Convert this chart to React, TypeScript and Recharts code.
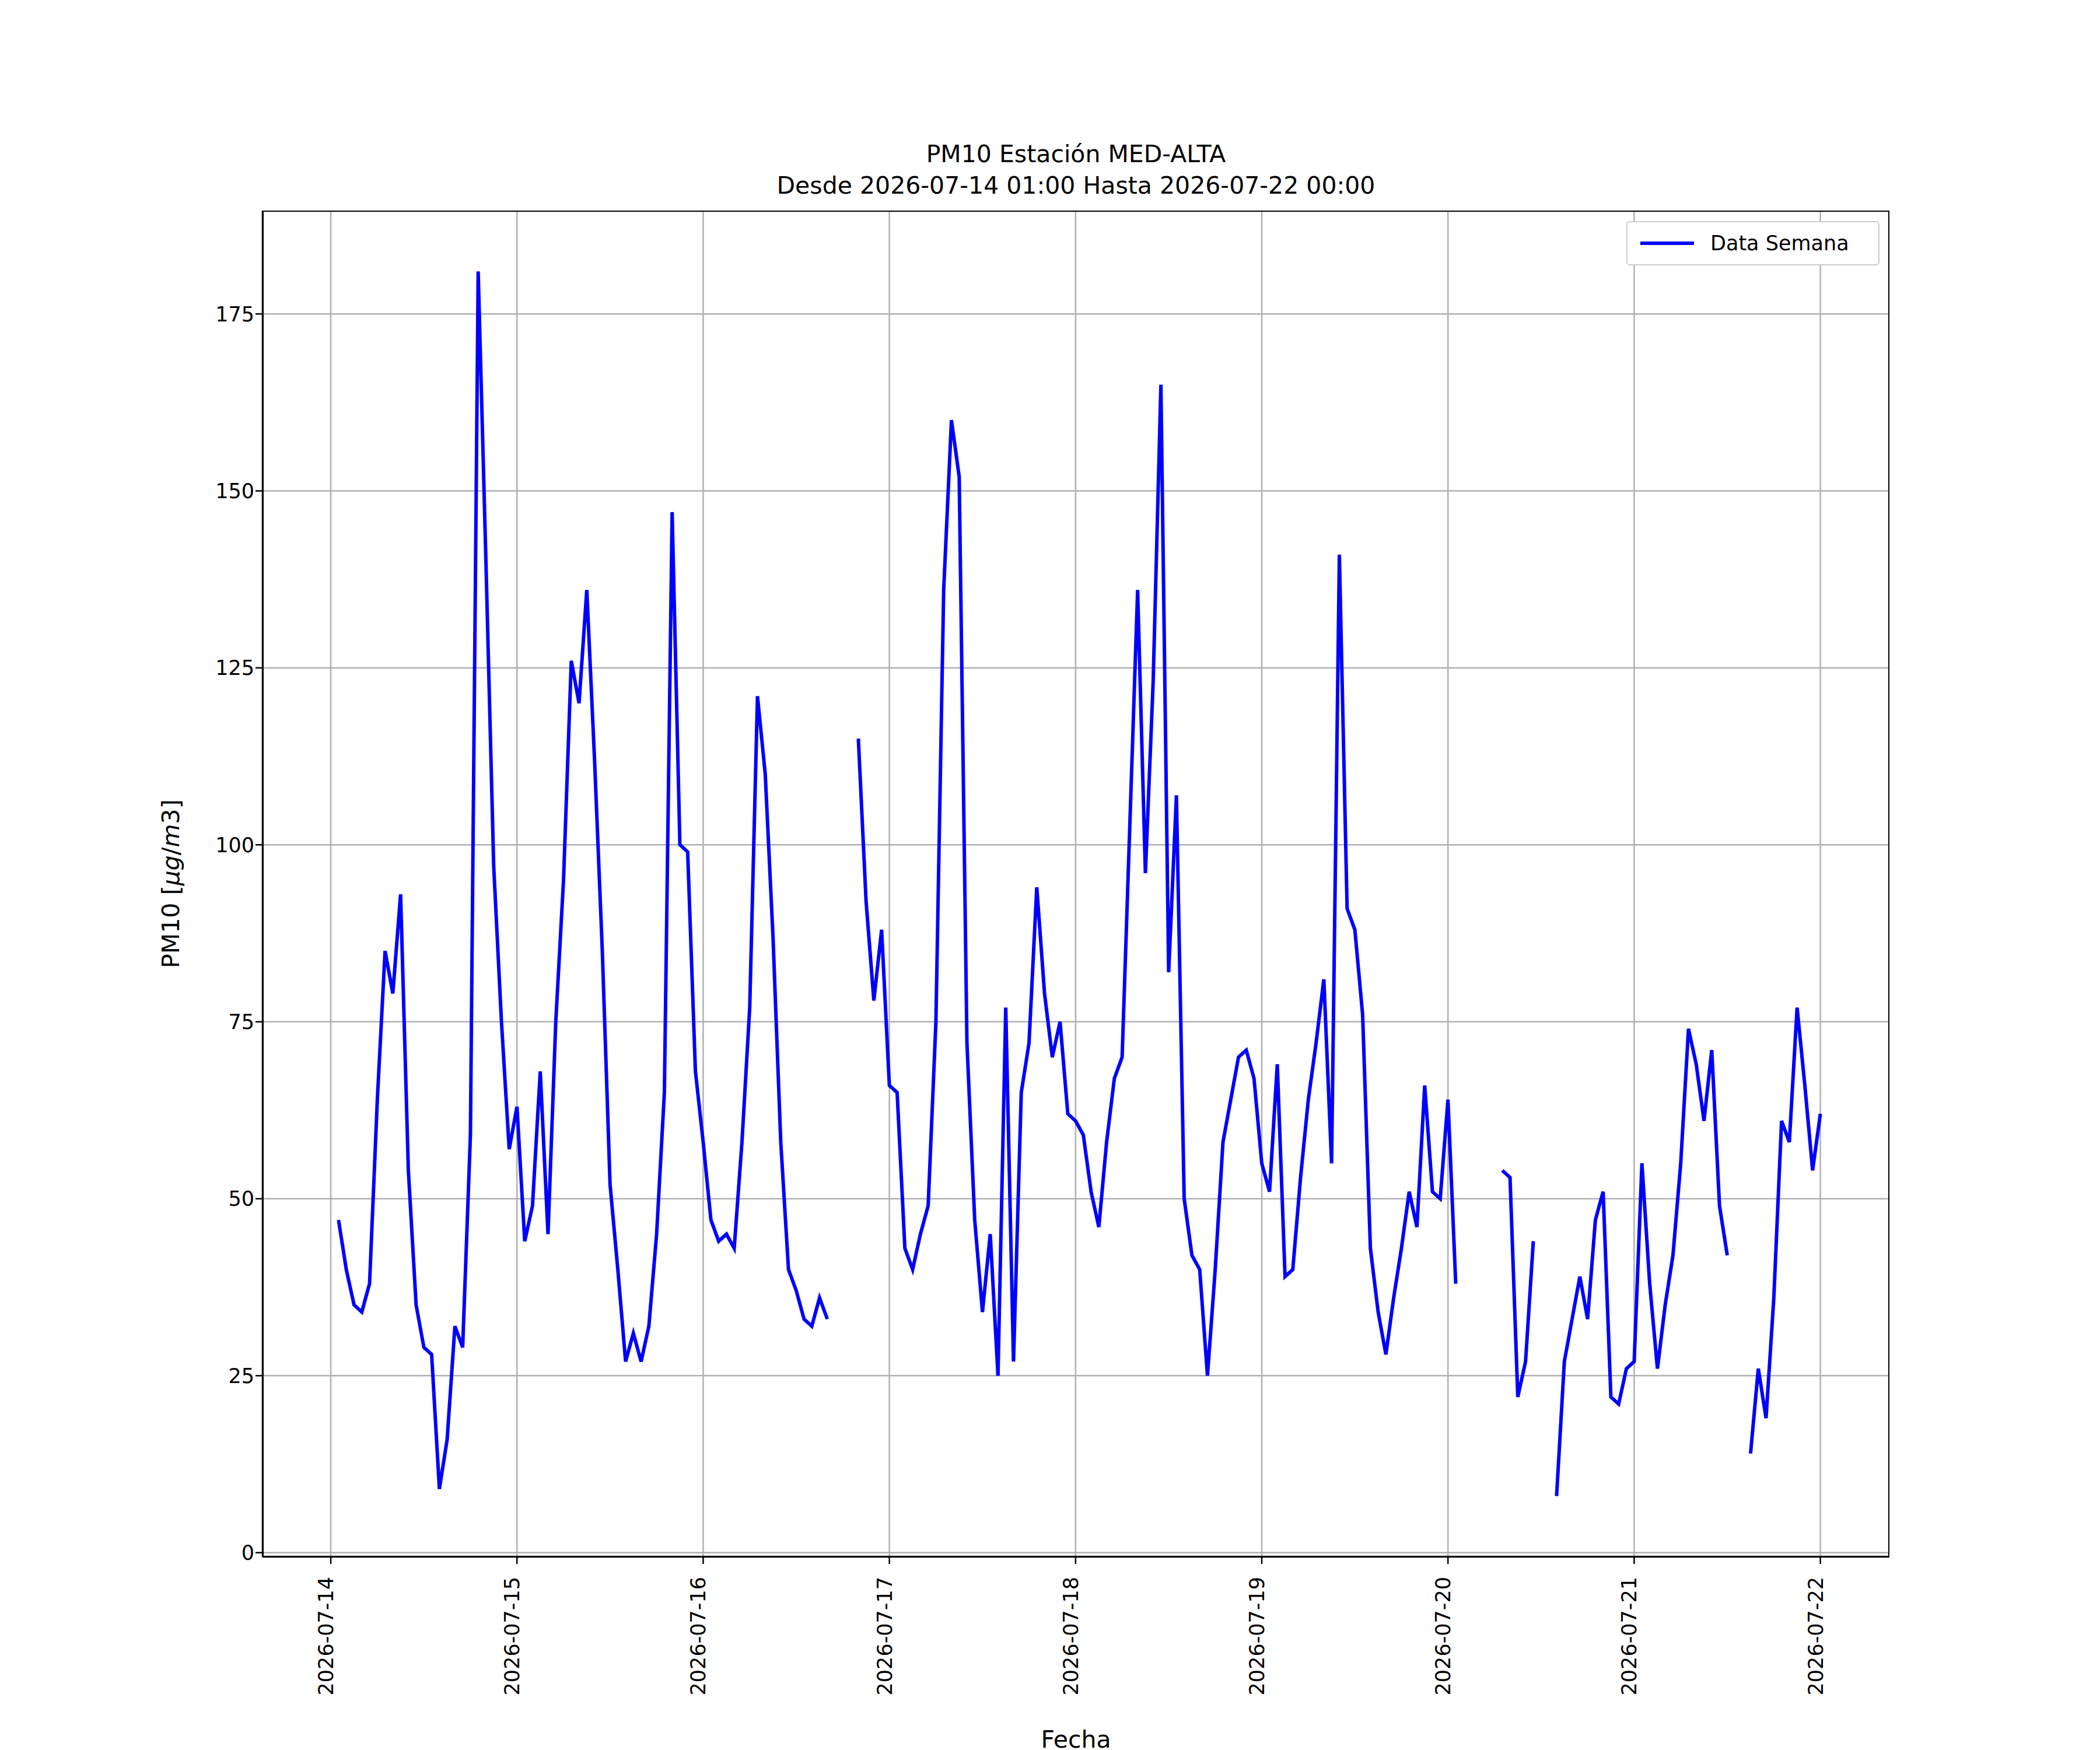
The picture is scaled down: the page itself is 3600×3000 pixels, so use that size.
import { LineChart, Line, XAxis, YAxis, CartesianGrid, Legend } from "recharts"

const N = null
const day14 = [47, 40, 35, 34, 38, 64, 85, 79, 93, 54, 35, 29, 28, 9, 16, 32, 29, 59, 181, 140, 97, 75, 57, 63]
const day15 = [44, 49, 68, 45, 75, 95, 126, 120, 136, 112, 85, 52, 40, 27, 31, 27, 32, 45, 65, 147, 100, 99, 68, 58]
const day16 = [47, 44, 45, 43, 58, 77, 121, 110, 87, 58, 40, 37, 33, 32, 36, 33, N, N, N, 115, 92, 78, 88, 66]
const day17 = [65, 43, 40, 45, 49, 75, 136, 160, 152, 72, 47, 34, 45, 25, 77, 27, 65, 72, 94, 79, 70, 75, 62, 61]
const day18 = [59, 51, 46, 58, 67, 70, 103, 136, 96, 123, 165, 82, 107, 50, 42, 40, 25, 40, 58, 64, 70, 71, 67, 55]
const day19 = [51, 69, 39, 40, 53, 64, 72, 81, 55, 141, 91, 88, 76, 43, 34, 28, 36, 43, 51, 46, 66, 51, 50, 64]
const day20 = [38, N, N, N, N, N, 54, 53, 22, 27, 44, N, N, 8, 27, 33, 39, 33, 47, 51, 22, 21, 26, 27]
const day21 = [55, 38, 26, 35, 42, 55, 74, 69, 61, 71, 49, 42, N, N, 14, 26, 19, 36, 61, 58, 77, 66, 54, 62]

const dayLabels = ["2026-07-14", "2026-07-15", "2026-07-16", "2026-07-17", "2026-07-18", "2026-07-19", "2026-07-20", "2026-07-21", "2026-07-22"]
const yTicks = [0, 25, 50, 75, 100, 125, 150, 175]

const values = [...day14, ...day15, ...day16, ...day17, ...day18, ...day19, ...day20, ...day21]
const data = values.map((v, i) => ({ h: i + 1, pm: v }))
const xTicks = dayLabels.map((_, i) => i * 24)

const font = "DejaVu Sans"
const L = 450, R = 3239, T = 361, B = 2669

export default function App() {
  return (
    <div style={{ position: "absolute", left: 0, top: 0, width: 3600, height: 3000, background: "#fff", fontFamily: font }}>
      <div style={{ position: "absolute", top: 237, width: L + R, textAlign: "center", fontSize: 41, lineHeight: "54px" }}>
        PM10 Estación MED-ALTA
        <br />
        Desde 2026-07-14 01:00 Hasta 2026-07-22 00:00
      </div>
      <LineChart width={3600} height={3000} data={data} margin={{ left: L - 100, right: 3600 - R, top: T, bottom: 3000 - B - 250 }} style={{ position: "absolute", left: 0, top: 0 }}>
        <CartesianGrid stroke="#b0b0b0" strokeWidth={2.5} horizontalValues={yTicks} verticalValues={xTicks} />
        <XAxis
          dataKey="h"
          type="number"
          domain={[-8.8, 200.9]}
          ticks={xTicks}
          interval={0}
          height={250}
          allowDataOverflow
          stroke="#000"
          strokeWidth={2.5}
          tickSize={12}
          tick={({ x, y, payload }) => (
            <text x={x - 8} y={y + 20} transform={`rotate(-90 ${x - 8} ${y + 20})`} textAnchor="end" dominantBaseline="central" fontSize={35} fontFamily={font}>
              {dayLabels[payload.value / 24]}
            </text>
          )}
        />
        <YAxis
          type="number"
          domain={[-0.6, 189.6]}
          ticks={yTicks}
          width={100}
          allowDataOverflow
          stroke="#000"
          strokeWidth={2.5}
          tickSize={12}
          tick={{ fontSize: 35, fontFamily: font, fill: "#000" }}
        />
        <Legend
          verticalAlign="top"
          content={() => (
            <div style={{ position: "absolute", left: 2788, top: 379, width: 434, height: 76, border: "2px solid #ccc", borderRadius: 6, background: "#fff", display: "flex", alignItems: "center", boxSizing: "border-box", fontSize: 35, fontFamily: font }}>
              <div style={{ width: 92, height: 6, background: "#0000ff", marginLeft: 22, marginRight: 28 }} />
              Data Semana
            </div>
          )}
          wrapperStyle={{ position: "absolute", left: 0, top: 0, width: 0, height: 0 }}
        />
        <Line dataKey="pm" stroke="#0000ff" strokeWidth={6} dot={false} connectNulls={false} isAnimationActive={false} />
      </LineChart>
      <div style={{ position: "absolute", left: L, top: T, width: R - L, height: B - T, border: "2.5px solid #000", boxSizing: "border-box", pointerEvents: "none" }} />
      <div style={{ position: "absolute", left: 0, top: 2958, width: L + R, textAlign: "center", fontSize: 41 }}>Fecha</div>
      <div style={{ position: "absolute", left: 293, top: 1515, transform: "translate(-50%,-50%) rotate(-90deg)", fontSize: 41, whiteSpace: "nowrap" }}>
        PM10 [<i>μg</i>/<i>m</i>3]
      </div>
    </div>
  )
}
